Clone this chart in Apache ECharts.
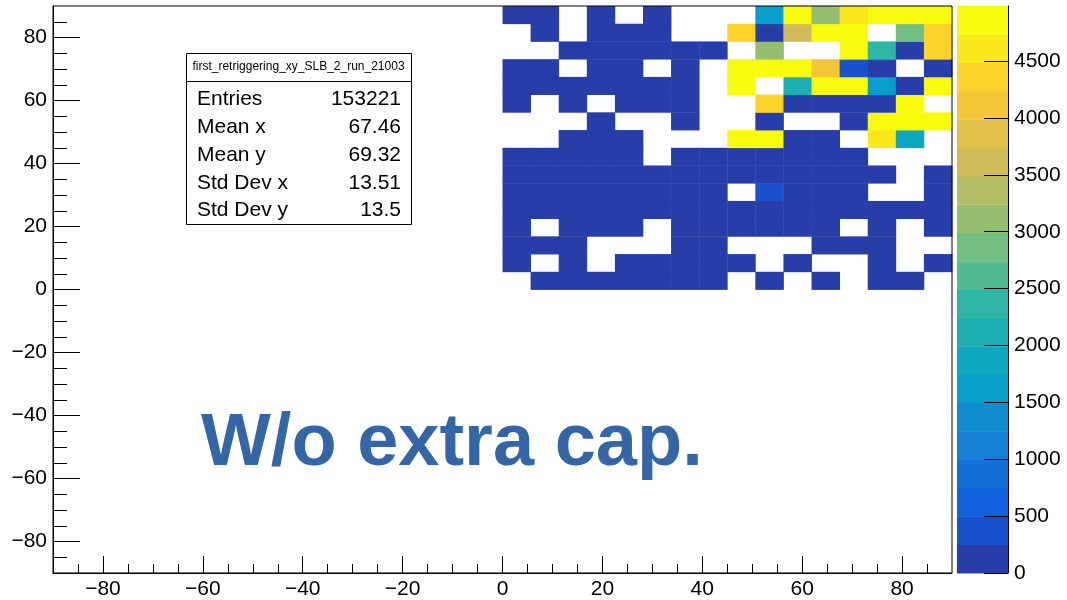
<!DOCTYPE html>
<html>
<head>
<meta charset="utf-8">
<script src="https://cdn.jsdelivr.net/npm/echarts@6/dist/echarts.min.js"></script>
<style>
html,body{margin:0;padding:0;background:#fff;}
#c{width:1067px;height:600px;}
</style>
</head>
<body>
<div id="c"></div>
<script>
// ---------------- data ----------------
const histName = 'first_retriggering_xy_SLB_2_run_21003';
const xRange = [-90, 90];
const yRange = [-90, 90];
const binWidth = 5.625;
const zMax = 4984;
const nLevels = 20;

// low edges of the filled columns / rows (x >= 0, y >= 0 quadrant)
const xLowEdges = [0, 5.625, 11.25, 16.875, 22.5, 28.125, 33.75, 39.375, 45, 50.625, 56.25, 61.875, 67.5, 73.125, 78.75, 84.375];
const yLowEdges = [0, 5.625, 11.25, 16.875, 22.5, 28.125, 33.75, 39.375, 45, 50.625, 56.25, 61.875, 67.5, 73.125, 78.75, 84.375];

// bin contents, one array per y row (bottom row first), 0 = empty bin
const row00 = [0, 38, 112, 64, 27, 145, 73, 19, 0, 56, 0, 88, 0, 131, 42, 0];
const row01 = [61, 0, 95, 0, 34, 170, 58, 121, 23, 0, 77, 0, 0, 49, 0, 104];
const row02 = [143, 86, 29, 0, 0, 0, 67, 152, 0, 0, 0, 38, 96, 71, 0, 0];
const row03 = [52, 0, 118, 187, 44, 0, 93, 136, 61, 25, 109, 83, 0, 57, 0, 140];
const row04 = [97, 164, 31, 75, 128, 53, 182, 66, 114, 47, 159, 92, 36, 125, 71, 88];
const row05 = [21, 134, 79, 148, 62, 101, 45, 173, 0, 380, 118, 57, 84, 0, 0, 66];
const row06 = [115, 48, 91, 176, 33, 127, 69, 102, 155, 82, 41, 138, 97, 60, 0, 129];
const row07 = [74, 157, 26, 89, 141, 0, 63, 118, 95, 172, 54, 107, 39, 0, 0, 0];
const row08 = [0, 0, 83, 46, 129, 0, 0, 0, 4800, 4850, 71, 152, 0, 4590, 1870, 0];
const row09 = [0, 0, 0, 58, 0, 0, 117, 0, 0, 93, 0, 0, 64, 4840, 4910, 4870];
const row10 = [136, 0, 42, 0, 88, 163, 51, 0, 0, 4330, 107, 76, 139, 58, 4860, 0];
const row11 = [67, 119, 35, 154, 92, 48, 171, 0, 4860, 0, 2110, 4830, 4880, 1610, 81, 4790];
const row12 = [99, 57, 0, 126, 73, 0, 148, 0, 4810, 4870, 4790, 4120, 420, 113, 0, 66];
const row13 = [0, 0, 84, 137, 29, 166, 52, 95, 0, 3090, 0, 0, 4900, 2370, 124, 4420];
const row14 = [0, 72, 0, 158, 41, 106, 0, 0, 4350, 87, 3610, 4850, 4820, 0, 2860, 4380];
const row15 = [108, 45, 0, 131, 0, 79, 0, 0, 0, 1620, 4890, 3120, 4610, 4870, 4930, 4984];
const rows = [row00, row01, row02, row03, row04, row05, row06, row07, row08, row09, row10, row11, row12, row13, row14, row15];

// tick labels
const xTickLabels = [-80, -60, -40, -20, 0, 20, 40, 60, 80];
const yTickLabels = [-80, -60, -40, -20, 0, 20, 40, 60, 80];
const xMinorTicks = [-85, -75, -70, -65, -55, -50, -45, -35, -30, -25, -15, -10, -5, 5, 10, 15, 25, 30, 35, 45, 50, 55, 65, 70, 75, 85];
const yMinorTicks = [-85, -75, -70, -65, -55, -50, -45, -35, -30, -25, -15, -10, -5, 5, 10, 15, 25, 30, 35, 45, 50, 55, 65, 70, 75, 85];
const zTickLabels = [0, 500, 1000, 1500, 2000, 2500, 3000, 3500, 4000, 4500];

// statistics box
const statLabels = ['Entries', 'Mean x', 'Mean y', 'Std Dev x', 'Std Dev y'];
const statValues = ['153221', '67.46', '69.32', '13.51', '13.5'];
const annotation = 'W/o extra cap.';

// ---------------- style helpers (ROOT kBird palette) ----------------
const birdStops = [0, 0.125, 0.25, 0.375, 0.5, 0.625, 0.75, 0.875, 1];
const birdR = [0.2082, 0.0592, 0.0780, 0.0232, 0.1802, 0.5301, 0.8186, 0.9956, 0.9764];
const birdG = [0.1664, 0.3599, 0.5041, 0.6419, 0.7178, 0.7492, 0.7328, 0.7862, 0.9832];
const birdB = [0.5293, 0.8684, 0.8385, 0.7914, 0.6425, 0.4662, 0.3499, 0.1968, 0.0539];
function bird(t) {
  let s = 0;
  while (s < birdStops.length - 2 && t > birdStops[s + 1]) s++;
  const f = (t - birdStops[s]) / (birdStops[s + 1] - birdStops[s]);
  const c = arr => Math.round(255 * (arr[s] + (arr[s + 1] - arr[s]) * f));
  return 'rgb(' + c(birdR) + ',' + c(birdG) + ',' + c(birdB) + ')';
}
function bandColor(i) {
  const k = Math.floor((i + 0.99) * 255 / nLevels);
  return bird(Math.min(k, 254) / 254);
}
function valueColor(v) {
  let i = Math.floor(v / (zMax / nLevels));
  if (i > nLevels - 1) i = nLevels - 1;
  if (i < 0) i = 0;
  return bandColor(i);
}
const minus = v => String(v).replace('-', '\u2212');
const plain = v => String(v);
const FONT = '"Liberation Sans", Arial, Helvetica, sans-serif';

// ---------------- build series data ----------------
const cellData = [];
rows.forEach((row, r) => {
  row.forEach((v, c) => {
    if (v > 0) cellData.push([xLowEdges[c], yLowEdges[r], v]);
  });
});
const bandData = [];
for (let i = 0; i < nLevels; i++) {
  bandData.push([i * zMax / nLevels, (i + 1) * zMax / nLevels, i]);
}

const chart = echarts.init(document.getElementById('c'), null, {renderer: 'canvas'});

const labelStyle = {fontSize: 21, color: '#000', fontFamily: FONT};

const option = {
  animation: false,
  backgroundColor: '#fff',
  grid: [
    {left: 53, top: 6, width: 899, height: 567, show: true, borderColor: '#000', borderWidth: 1,
     backgroundColor: 'transparent', z: 5, containLabel: false, outerBoundsMode: 'none'},
    {left: 957, top: 6, width: 51, height: 567, show: false, containLabel: false, outerBoundsMode: 'none'}
  ],
  xAxis: [
    {gridIndex: 0, type: 'value', min: xRange[0], max: xRange[1], position: 'bottom', z: 10,
     axisLine: {show: true, onZero: false, lineStyle: {color: '#000', width: 1}},
     axisTick: {show: true, inside: true, length: 17, customValues: xTickLabels, lineStyle: {color: '#000', width: 1}},
     axisLabel: Object.assign({show: true, margin: 6, customValues: xTickLabels, formatter: minus}, labelStyle),
     splitLine: {show: false}},
    {gridIndex: 0, type: 'value', min: xRange[0], max: xRange[1], position: 'bottom', z: 10,
     axisLine: {show: false, onZero: false},
     axisTick: {show: true, inside: true, length: 9, customValues: xMinorTicks, lineStyle: {color: '#000', width: 1}},
     axisLabel: {show: false},
     splitLine: {show: false}},
    {gridIndex: 1, type: 'value', min: 0, max: 1, show: false}
  ],
  yAxis: [
    {gridIndex: 0, type: 'value', min: yRange[0], max: yRange[1], position: 'left', z: 10,
     axisLine: {show: true, onZero: false, lineStyle: {color: '#000', width: 1}},
     axisTick: {show: true, inside: true, length: 27, customValues: yTickLabels, lineStyle: {color: '#000', width: 1}},
     axisLabel: Object.assign({show: true, margin: 6, customValues: yTickLabels, formatter: minus}, labelStyle),
     splitLine: {show: false}},
    {gridIndex: 0, type: 'value', min: yRange[0], max: yRange[1], position: 'left', z: 10,
     axisLine: {show: false, onZero: false},
     axisTick: {show: true, inside: true, length: 14, customValues: yMinorTicks, lineStyle: {color: '#000', width: 1}},
     axisLabel: {show: false},
     splitLine: {show: false}},
    {gridIndex: 1, type: 'value', min: 0, max: zMax, position: 'right', z: 10,
     axisLine: {show: true, onZero: false, lineStyle: {color: '#000', width: 1}},
     axisTick: {show: true, inside: true, length: 24, customValues: zTickLabels, lineStyle: {color: '#000', width: 1}},
     axisLabel: Object.assign({show: true, margin: 6, customValues: zTickLabels, formatter: plain}, labelStyle),
     splitLine: {show: false}}
  ],
  series: [
    {
      type: 'custom', name: histName, xAxisIndex: 0, yAxisIndex: 0, z: 2,
      encode: {x: 0, y: 1},
      data: cellData,
      renderItem: function (params, api) {
        const x0 = api.value(0), y0 = api.value(1), v = api.value(2);
        const a = api.coord([x0, y0]);
        const b = api.coord([x0 + binWidth, y0 + binWidth]);
        return {
          type: 'rect',
          shape: {x: a[0], y: b[1], width: b[0] - a[0] + 0.4, height: a[1] - b[1] + 0.4},
          style: {fill: valueColor(v)}
        };
      }
    },
    {
      type: 'custom', name: 'palette', xAxisIndex: 2, yAxisIndex: 2, z: 2,
      encode: {y: [0, 1]},
      data: bandData,
      renderItem: function (params, api) {
        const lo = api.value(0), hi = api.value(1), i = api.value(2);
        const a = api.coord([0, lo]);
        const b = api.coord([1, hi]);
        return {
          type: 'rect',
          shape: {x: a[0], y: b[1], width: b[0] - a[0], height: a[1] - b[1] + 0.4},
          style: {fill: bandColor(i)}
        };
      }
    }
  ],
  graphic: (function () {
    const g = [];
    g.push({type: 'rect', z: 20, shape: {x: 186.5, y: 53.5, width: 225, height: 171},
            style: {fill: '#fff', stroke: '#000', lineWidth: 1}});
    g.push({type: 'line', z: 21, shape: {x1: 186.5, y1: 81.5, x2: 411.5, y2: 81.5},
            style: {stroke: '#000', lineWidth: 1}});
    g.push({type: 'text', z: 21, x: 298.5, y: 67,
            style: {text: histName, font: '12px ' + FONT, fill: '#000',
                    textAlign: 'center', align: 'center', textVerticalAlign: 'middle', verticalAlign: 'middle'}});
    const ys = [99, 127, 155, 183, 210];
    statLabels.forEach((t, i) => {
      g.push({type: 'text', z: 21, x: 197, y: ys[i],
              style: {text: t, font: '21px ' + FONT, fill: '#000',
                      textAlign: 'left', align: 'left', textVerticalAlign: 'middle', verticalAlign: 'middle'}});
      g.push({type: 'text', z: 21, x: 401, y: ys[i],
              style: {text: statValues[i], font: '21px ' + FONT, fill: '#000',
                      textAlign: 'right', align: 'right', textVerticalAlign: 'middle', verticalAlign: 'middle'}});
    });
    g.push({type: 'text', z: 21, x: 201, y: 445,
            style: {text: annotation, font: 'bold 74px ' + FONT, fill: '#3465a5',
                    textAlign: 'left', align: 'left', textVerticalAlign: 'middle', verticalAlign: 'middle'}});
    return g;
  })()
};

chart.setOption(option);
</script>
</body>
</html>
